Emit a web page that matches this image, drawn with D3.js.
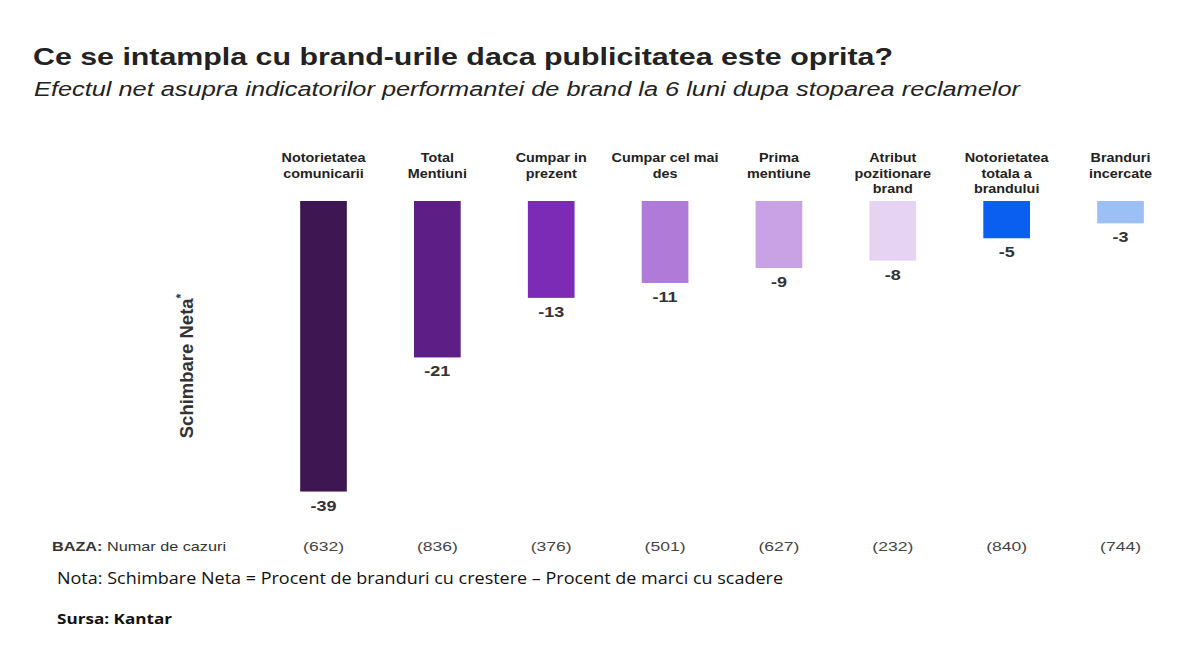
<!DOCTYPE html>
<html><head><meta charset="utf-8">
<script src="https://cdn.jsdelivr.net/npm/d3@7"></script>
<style>body{margin:0;background:#fff}</style>
</head><body>
<svg id="c" width="1200" height="667"></svg>
<script>
const categories = [
  ["Notorietatea","comunicarii"],
  ["Total","Mentiuni"],
  ["Cumpar in","prezent"],
  ["Cumpar cel mai","des"],
  ["Prima","mentiune"],
  ["Atribut","pozitionare","brand"],
  ["Notorietatea","totala a","brandului"],
  ["Branduri","incercate"]
];
const values = [-39, -21, -13, -11, -9, -8, -5, -3];
const bases = ["(632)","(836)","(376)","(501)","(627)","(232)","(840)","(744)"];
const colors = ["#3e1752","#5d1f86","#7b2bb6","#b07ad8","#c9a2e6","#e6d3f3","#0a5ff0","#9cc0f6"];

const svg = d3.select("#c");
const font = "Liberation Sans, Arial, sans-serif";
const x = d3.scaleBand().domain(d3.range(categories.length)).range([266, 1178]).paddingInner(0.59).paddingOuter(0.3);
const y = d3.scaleLinear().domain([0, -40]).range([201, 499]);

function fitText(t, len) { t.attr("textLength", len).attr("lengthAdjust", "spacingAndGlyphs"); return t; }

fitText(svg.append("text").attr("x", 33).attr("y", 65).attr("font-family", font).attr("font-weight", "bold")
  .attr("font-size", 24).attr("fill", "#222").text("Ce se intampla cu brand-urile daca publicitatea este oprita?"), 860);
fitText(svg.append("text").attr("x", 34).attr("y", 96).attr("font-family", font).attr("font-style", "italic")
  .attr("font-size", 19.5).attr("fill", "#222").text("Efectul net asupra indicatorilor performantei de brand la 6 luni dupa stoparea reclamelor"), 986);

const g = svg.append("g");
g.selectAll("rect").data(values).join("rect")
  .attr("x", (d, i) => x(i)).attr("width", x.bandwidth())
  .attr("y", y(0)).attr("height", d => y(d) - y(0))
  .attr("fill", (d, i) => colors[i]);

g.selectAll("text.val").data(values).join("text").attr("class", "val")
  .attr("transform", (d, i) => `translate(${x(i) + x.bandwidth() / 2},${y(d) + 19}) scale(1.2,1)`)
  .attr("text-anchor", "middle").attr("font-family", font).attr("font-weight", "bold")
  .attr("font-size", 15).attr("fill", "#333").text(d => d);

categories.forEach((lines, i) => {
  const t = svg.append("text").attr("text-anchor", "middle").attr("font-family", font)
    .attr("transform", `translate(${x(i) + x.bandwidth() / 2},162) scale(1.15,1)`)
    .attr("font-weight", "bold").attr("font-size", 12.5).attr("fill", "#222");
  lines.forEach((l, j) => t.append("tspan").attr("x", 0).attr("y", j * 15.7).text(l));
});

const yl = svg.append("text").attr("transform", "translate(193,366) rotate(-90)")
  .attr("text-anchor", "middle").attr("font-family", font).attr("font-weight", "bold")
  .attr("font-size", 18.5).attr("fill", "#333");
yl.append("tspan").text("Schimbare Neta");
yl.append("tspan").attr("font-size", 12).attr("dy", -8).text("*");

const bz = fitText(svg.append("text").attr("x", 52).attr("y", 551).attr("font-family", font).attr("font-size", 13.5).attr("fill", "#333"), 174);
bz.append("tspan").attr("font-weight", "bold").text("BAZA:");
bz.append("tspan").text(" Numar de cazuri");
svg.selectAll("text.base").data(bases).join("text").attr("class", "base")
  .attr("transform", (d, i) => `translate(${x(i) + x.bandwidth() / 2},551) scale(1.3,1)`).attr("text-anchor", "middle")
  .attr("font-family", font).attr("font-size", 13.5).attr("fill", "#444").text(d => d);

fitText(svg.append("text").attr("x", 57).attr("y", 584).attr("font-family", "Open Sans, sans-serif").attr("font-size", 15.5)
  .attr("fill", "#111").text("Nota: Schimbare Neta = Procent de branduri cu crestere  \u2013 Procent de marci cu scadere"), 726);
fitText(svg.append("text").attr("x", 57).attr("y", 624).attr("font-family", "Open Sans, sans-serif").attr("font-weight", "bold")
  .attr("font-size", 15).attr("fill", "#111").text("Sursa: Kantar"), 115);
</script>
</body></html>
